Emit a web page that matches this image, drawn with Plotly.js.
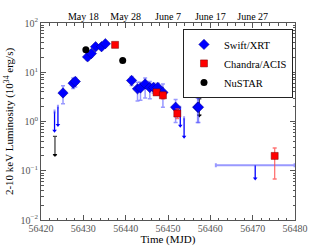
<!DOCTYPE html>
<html>
<head>
<meta charset="utf-8">
<script src="https://cdn.plot.ly/plotly-3.0.1.min.js"></script>
<style>html,body{margin:0;padding:0;background:#fff;}#chart{width:328px;height:246px;}</style>
</head>
<body>
<div id="chart"></div>
<script>
// ---- data ----
const swiftT  = [56425.2, 56427.6, 56428.1, 56431.0, 56431.9, 56432.9, 56434.3, 56435.2, 56441.4, 56442.8, 56443.5, 56444.6, 56445.7, 56446.6, 56447.6, 56448.8, 56451.8, 56457.0, 56457.2];
const swiftL  = [3.8, 6.0, 6.5, 20.5, 24, 33, 33, 38, 6.8, 4.6, 4.8, 5.8, 4.9, 4.9, 4.9, 3.9, 1.95, 1.95, 1.95];
const swiftHi = [5.3, 7.6, 7.8, 24, 27, 37, 37, 41, 8.2, 6.3, 6.3, 7.6, 6.5, 6.0, 6.0, 5.8, 2.8, 3.0, 3.0];
const swiftLo = [2.3, 4.7, 5.0, 17.5, 21, 29, 29, 35, 5.4, 2.6, 2.7, 3.0, 2.9, 3.8, 3.4, 1.95, 0.95, 0.95, 0.95];

const swiftUlT   = [56423.2, 56424.0, 56452.9, 56453.8, 56470.6];
const swiftUlLim = [0.65, 0.85, 0.82, 0.49, 0.07];
const swiftUlTop = [1.6, 2.0, 1.9, 1.17, 0.13];
const swiftUlXerr = [0, 0, 0, 0, 9.3];

const chandraT  = [56437.5, 56447.3, 56448.8, 56452.2, 56475.2];
const chandraL  = [36, 3.9, 3.4, 1.45, 0.20];
const chandraHi = [38, 4.4, 3.9, 1.8, 0.29];
const chandraLo = [34, 3.45, 2.9, 1.15, 0.068];

const nustarT  = [56430.6, 56439.3];
const nustarL  = [28.5, 17.3];
const nustarHi = [31, 18.5];
const nustarLo = [26, 16.1];

const nustarUlT   = [56423.3, 56457.4];
const nustarUlLim = [0.21, 1.33];
const nustarUlTop = [0.50, 2.9];

const xTicks = [56420, 56430, 56440, 56450, 56460, 56470, 56480];
const topTickVals = [56430, 56440, 56450, 56460, 56470];
const topTickText = ['May 18', 'May 28', 'June 7', 'June 17', 'June 27'];
const yTickVals = [0.01, 0.1, 1, 10, 100];
const yTickText = ['10<sup>\u22122</sup>', '10<sup>\u22121</sup>', '10<sup>0</sup>', '10<sup>1</sup>', '10<sup>2</sup>'];

// ---- helpers ----
const sub = (a, b) => a.map((v, i) => v - b[i]);
const yMinor = [];
for (let d = -2; d < 2; d++) for (let k = 2; k <= 9; k++) yMinor.push(k * Math.pow(10, d));

const FONT = 'Liberation Serif, Times New Roman, serif';
const BLUE = '#0000ff';
const BLUE_ERR = 'rgba(70,70,255,0.55)';
const RED = '#ff0000';
const RED_ERR = 'rgba(255,70,70,0.75)';

const traces = [
  {
    x: swiftUlT, y: swiftUlTop, type: 'scatter', mode: 'markers',
    marker: {size: 1, color: 'rgba(0,0,0,0)'},
    error_y: {type: 'data', symmetric: false, array: swiftUlT.map(() => 0), arrayminus: sub(swiftUlTop, swiftUlLim), color: BLUE, thickness: 1.3, width: 0},
    error_x: {type: 'data', array: swiftUlXerr, color: BLUE_ERR, thickness: 2, width: 2},
    showlegend: false, hoverinfo: 'skip'
  },
  {
    x: swiftUlT, y: swiftUlLim, type: 'scatter', mode: 'markers',
    marker: {symbol: 'triangle-down', size: 4, color: BLUE},
    showlegend: false, hoverinfo: 'skip'
  },
  {
    x: nustarUlT, y: nustarUlTop, type: 'scatter', mode: 'markers',
    marker: {size: 1, color: 'rgba(0,0,0,0)'},
    error_y: {type: 'data', symmetric: false, array: nustarUlT.map(() => 0), arrayminus: sub(nustarUlTop, nustarUlLim), color: '#444', thickness: 1.3, width: 2},
    showlegend: false, hoverinfo: 'skip'
  },
  {
    x: nustarUlT, y: nustarUlLim, type: 'scatter', mode: 'markers',
    marker: {symbol: 'triangle-down', size: 4, color: '#000'},
    showlegend: false, hoverinfo: 'skip'
  },
  {
    name: 'Swift/XRT', x: swiftT, y: swiftL, type: 'scatter', mode: 'markers',
    marker: {symbol: 'diamond', size: 8, color: BLUE, line: {color: '#00008b', width: 0.5}},
    error_y: {type: 'data', symmetric: false, array: sub(swiftHi, swiftL), arrayminus: sub(swiftL, swiftLo), color: BLUE_ERR, thickness: 1.5, width: 2},
    error_x: {type: 'data', array: swiftT.map(() => 0.25), color: BLUE_ERR, thickness: 1.5, width: 0}
  },
  {
    name: 'Chandra/ACIS', x: chandraT, y: chandraL, type: 'scatter', mode: 'markers',
    marker: {symbol: 'square', size: 7, color: RED, line: {color: '#700', width: 0.5}},
    error_y: {type: 'data', symmetric: false, array: sub(chandraHi, chandraL), arrayminus: sub(chandraL, chandraLo), color: RED_ERR, thickness: 1.3, width: 2}
  },
  {
    name: 'NuSTAR', x: nustarT, y: nustarL, type: 'scatter', mode: 'markers',
    marker: {symbol: 'circle', size: 7, color: '#000'},
    error_y: {type: 'data', symmetric: false, array: sub(nustarHi, nustarL), arrayminus: sub(nustarL, nustarLo), color: '#444', thickness: 1.3, width: 2}
  },
  {x: [56430], y: [null], xaxis: 'x2', yaxis: 'y', type: 'scatter', mode: 'markers', showlegend: false, hoverinfo: 'skip'}
];

const layout = {
  width: 328, height: 246,
  margin: {l: 41, r: 33, t: 23, b: 26},
  paper_bgcolor: '#fff', plot_bgcolor: '#fff',
  font: {family: FONT, size: 10, color: '#000'},
  showlegend: true,
  legend: {
    x: 0.559, y: 0.97, xanchor: 'left', yanchor: 'top',
    bgcolor: '#fff', bordercolor: '#222', borderwidth: 1,
    font: {family: FONT, size: 10.5, color: '#000'},
    itemwidth: 30, tracegroupgap: 0
  },
  xaxis: {
    range: [56420, 56480], tickvals: xTicks, ticktext: xTicks.map(String),
    ticks: 'inside', ticklen: 5, tickcolor: '#555', tickwidth: 1,
    minor: {dtick: 2, tick0: 56420, ticks: 'inside', ticklen: 2.5, tickcolor: '#555'},
    showline: true, linecolor: '#555', linewidth: 1, mirror: 'ticks',
    showgrid: false, zeroline: false, automargin: false,
    ticklabelstandoff: -1,
    tickfont: {family: FONT, size: 10, color: '#555'},
    title: {text: 'Time (MJD)', font: {family: FONT, size: 11, color: '#000'}, standoff: 4}
  },
  xaxis2: {
    overlaying: 'x', side: 'top', range: [56420, 56480],
    tickmode: 'array', tickvals: topTickVals, ticktext: topTickText,
    ticks: '', showline: false, showgrid: false, zeroline: false,
    tickfont: {family: FONT, size: 10, color: '#000'}
  },
  yaxis: {
    type: 'log', range: [-2, 2], tickvals: yTickVals, ticktext: yTickText,
    ticks: 'inside', ticklen: 5, tickcolor: '#555', tickwidth: 1,
    minor: {tickvals: yMinor, ticks: 'inside', ticklen: 2.5, tickcolor: '#555'},
    showline: true, linecolor: '#555', linewidth: 1, mirror: 'ticks',
    showgrid: false, zeroline: false, automargin: false,
    tickfont: {family: FONT, size: 10, color: '#555'},
    title: {text: '2-10 keV Luminosity (10<sup>34</sup> erg/s)', font: {family: FONT, size: 11, color: '#000'}, standoff: 4}
  }
};

Plotly.newPlot('chart', traces, layout, {displayModeBar: false, staticPlot: true});
</script>
</body>
</html>
